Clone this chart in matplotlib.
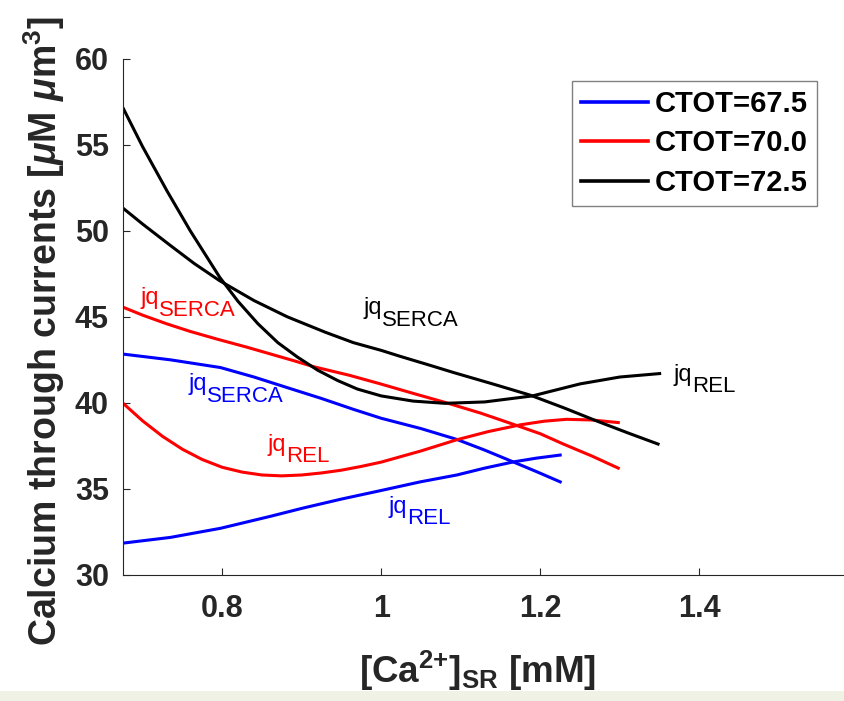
import matplotlib
matplotlib.use("Agg")
import matplotlib.pyplot as plt
from matplotlib.patches import Rectangle

plt.rcParams["font.family"] = ["Liberation Sans", "DejaVu Sans"]
plt.rcParams["mathtext.fontset"] = "custom"
plt.rcParams["mathtext.rm"] = "Liberation Sans"
plt.rcParams["mathtext.it"] = "Liberation Sans:italic:bold"
plt.rcParams["mathtext.bf"] = "Liberation Sans:bold"
plt.rcParams["mathtext.default"] = "regular"

# CTOT = 67.5 (blue)
x_blue_serca = [0.676, 0.735, 0.798, 0.84, 0.882, 0.925, 0.965, 1.0, 1.05, 1.095, 1.13, 1.166, 1.195, 1.225]
y_blue_serca = [42.83, 42.5, 42.05, 41.5, 40.88, 40.25, 39.62, 39.1, 38.5, 37.87, 37.25, 36.56, 36.0, 35.4]
x_blue_rel = [0.676, 0.735, 0.798, 0.861, 0.902, 0.95, 1.0, 1.049, 1.095, 1.13, 1.166, 1.195, 1.225]
y_blue_rel = [31.84, 32.17, 32.7, 33.4, 33.88, 34.4, 34.9, 35.4, 35.8, 36.2, 36.56, 36.78, 36.96]

# CTOT = 70.0 (red)
x_red_serca = [0.676, 0.70, 0.73, 0.76, 0.794, 0.83, 0.86, 0.89, 0.915, 0.96, 0.999, 1.04,
               1.082, 1.125, 1.166, 1.20, 1.229, 1.265, 1.298]
y_red_serca = [45.55, 45.1, 44.6, 44.15, 43.7, 43.25, 42.85, 42.45, 42.1, 41.6, 41.1, 40.55,
               40.0, 39.4, 38.75, 38.2, 37.6, 36.9, 36.2]
x_red_rel = [0.676, 0.70, 0.725, 0.75, 0.775, 0.80, 0.825, 0.85, 0.875, 0.90, 0.925, 0.95,
             0.975, 1.0, 1.05, 1.095, 1.135, 1.175, 1.205, 1.233, 1.265, 1.298]
y_red_rel = [39.95, 38.95, 38.05, 37.3, 36.7, 36.25, 35.97, 35.8, 35.75, 35.8, 35.92, 36.08,
             36.3, 36.55, 37.2, 37.85, 38.33, 38.72, 38.93, 39.04, 39.0, 38.85]

# CTOT = 72.5 (black)
x_black_serca = [0.676, 0.70, 0.735, 0.765, 0.797, 0.84, 0.882, 0.93, 0.965, 1.0, 1.024, 1.06,
                 1.091, 1.14, 1.187, 1.23, 1.271, 1.31, 1.348]
y_black_serca = [51.3, 50.4, 49.15, 48.1, 47.1, 45.95, 45.0, 44.1, 43.5, 43.05, 42.7, 42.2,
                 41.76, 41.1, 40.45, 39.7, 38.94, 38.25, 37.6]
x_black_rel = [0.676, 0.70, 0.731, 0.76, 0.797, 0.82, 0.845, 0.87, 0.895, 0.92, 0.945, 0.97,
               1.0, 1.04, 1.08, 1.13, 1.19, 1.25, 1.30, 1.35]
y_black_rel = [57.1, 54.9, 52.3, 50.0, 47.3, 45.9, 44.6, 43.5, 42.65, 41.9, 41.3, 40.8,
               40.4, 40.1, 39.97, 40.05, 40.4, 41.1, 41.5, 41.7]

legend_labels = ["CTOT=67.5", "CTOT=70.0", "CTOT=72.5"]
colors = ["#0000ff", "#ff0000", "#000000"]

# (x, baseline y, subscript, colour) for the curve annotations
annotations = [
    (0.698, 45.73, "SERCA", "#ff0000"),
    (0.978, 45.17, "SERCA", "#000000"),
    (0.758, 40.74, "SERCA", "#0000ff"),
    (0.857, 37.21, "REL", "#ff0000"),
    (1.009, 33.60, "REL", "#0000ff"),
    (1.368, 41.29, "REL", "#000000"),
]

W, H = 844, 701
fig = plt.figure(figsize=(W / 100, H / 100), dpi=100)
ax = fig.add_axes([122.7 / W, (H - 574.7) / H, 735.8 / W, 515.7 / H])

lw = 2.2
h1, = ax.plot(x_blue_serca, y_blue_serca, color=colors[0], lw=lw)
ax.plot(x_blue_rel, y_blue_rel, color=colors[0], lw=lw)
h2, = ax.plot(x_red_serca, y_red_serca, color=colors[1], lw=lw)
ax.plot(x_red_rel, y_red_rel, color=colors[1], lw=lw)
h3, = ax.plot(x_black_serca, y_black_serca, color=colors[2], lw=lw)
ax.plot(x_black_rel, y_black_rel, color=colors[2], lw=lw)

for x, y, sub, c in annotations:
    ax.text(x, y, "jq", color=c, fontsize=17, ha="left", va="baseline")
    ax.annotate(sub, xy=(x, y), xytext=(13.3, -8.4), textcoords="offset points",
                color=c, fontsize=16, ha="left", va="baseline")

ax.set_xlim(0.675, 1.6)
ax.set_ylim(30, 60)
ax.set_xticks([0.8, 1.0, 1.2, 1.4])
ax.set_xticklabels(["0.8", "1", "1.2", "1.4"])
ax.set_yticks([30, 35, 40, 45, 50, 55, 60])
for s in ["top", "right"]:
    ax.spines[s].set_visible(False)
for s in ["left", "bottom"]:
    ax.spines[s].set_color("#262626")
    ax.spines[s].set_linewidth(0.8)
ax.tick_params(axis="both", direction="in", length=5, width=0.8, color="#262626",
               labelsize=22, labelcolor="#262626")
ax.tick_params(axis="y", pad=10)
ax.tick_params(axis="x", pad=14)
for lab in ax.get_xticklabels() + ax.get_yticklabels():
    lab.set_fontweight("bold")

fig.text(44 / W, 1 - 331 / H, r"Calcium through currents [$\mathit{\mu}$M $\mathit{\mu}$m$^{3}$]",
         rotation=90, ha="center", va="center", fontsize=27, fontweight="bold", color="#262626")
fig.text(478 / W, 1 - 683 / H, r"[Ca$^{2{+}}$]$_{SR}$ [mM]",
         ha="center", va="baseline", fontsize=26.5, fontweight="bold", color="#262626")

leg = fig.legend([h1, h2, h3], legend_labels, loc="upper right",
                 bbox_to_anchor=(817 / W, 1 - 81 / H), borderaxespad=0,
                 prop={"weight": "bold", "size": 21}, handlelength=2.3,
                 handletextpad=0.25, labelspacing=0.4, borderpad=0.3,
                 fancybox=False, framealpha=1)
leg.get_frame().set_edgecolor("#808080")
leg.get_frame().set_linewidth(1.0)
for line in leg.get_lines():
    line.set_linewidth(2.6)

fig.patches.append(Rectangle((0, 0), 1, 10 / H, transform=fig.transFigure,
                             facecolor="#eff2e5", edgecolor="none", zorder=10))

fig.savefig("out.png", dpi=100)
